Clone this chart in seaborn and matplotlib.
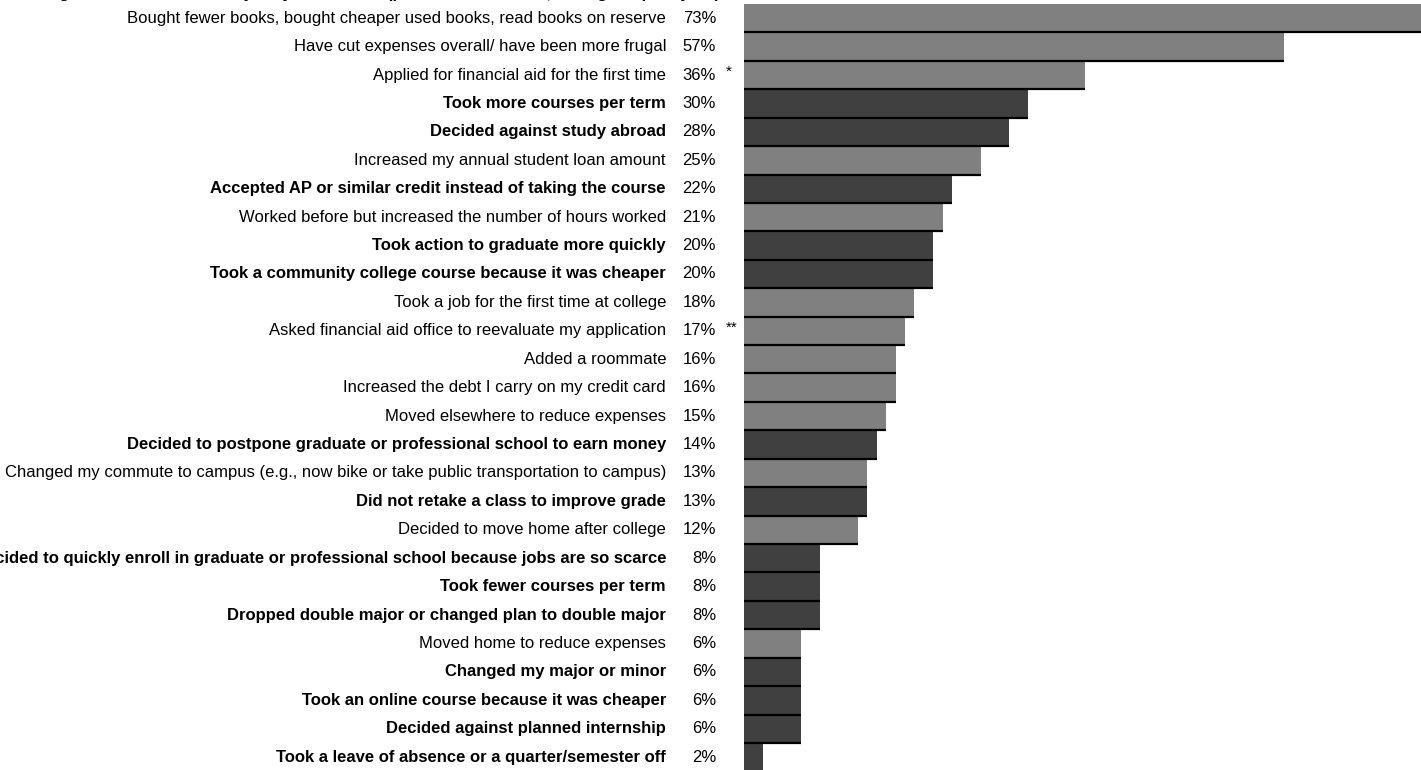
import matplotlib
matplotlib.use("Agg")
import matplotlib.pyplot as plt
import matplotlib.transforms as mtransforms
import seaborn as sns
import pandas as pd

# ---- data -------------------------------------------------------------
labels = [
    "Bought fewer books, bought cheaper used books, read books on reserve",
    "Have cut expenses overall/ have been more frugal",
    "Applied for financial aid for the first time",
    "Took more courses per term",
    "Decided against study abroad",
    "Increased my annual student loan amount",
    "Accepted AP or similar credit instead of taking the course",
    "Worked before but increased the number of hours worked",
    "Took action to graduate more quickly",
    "Took a community college course because it was cheaper",
    "Took a job for the first time at college",
    "Asked financial aid office to reevaluate my application",
    "Added a roommate",
    "Increased the debt I carry on my credit card",
    "Moved elsewhere to reduce expenses",
    "Decided to postpone graduate or professional school to earn money",
    "Changed my commute to campus (e.g., now bike or take public transportation to campus)",
    "Did not retake a class to improve grade",
    "Decided to move home after college",
    "Decided to quickly enroll in graduate or professional school because jobs are so scarce",
    "Took fewer courses per term",
    "Dropped double major or changed plan to double major",
    "Moved home to reduce expenses",
    "Changed my major or minor",
    "Took an online course because it was cheaper",
    "Decided against planned internship",
    "Took a leave of absence or a quarter/semester off",
]
values = [73, 57, 36, 30, 28, 25, 22, 21, 20, 20, 18, 17, 16, 16, 15, 14,
          13, 13, 12, 8, 8, 8, 6, 6, 6, 6, 2]
# "academic" actions are drawn dark and bold, "financial" ones light
groups = ["financial", "financial", "financial", "academic", "academic",
          "financial", "academic", "financial", "academic", "academic",
          "financial", "financial", "financial", "financial", "financial",
          "academic", "financial", "academic", "financial", "academic",
          "academic", "academic", "financial", "academic", "academic",
          "academic", "academic"]
notes = ["", "", "*", "", "", "", "", "", "", "", "", "**", "", "", "", "",
         "", "", "", "", "", "", "", "", "", "", ""]
title = ("Approaches to paying for college: actions students say they have taken "
         "(percent of students, during the past year)")

palette = {"financial": "#808080", "academic": "#404040"}

# ---- figure -----------------------------------------------------------
sns.set_theme(style="white")
plt.rcParams["font.family"] = ["Liberation Sans", "DejaVu Sans"]

W, H = 1421, 770
fig = plt.figure(figsize=(W / 100, H / 100), dpi=100)

x0_px, top_px, pitch_px = 744, 4, 28.42
n = len(labels)
ax_h = n * pitch_px
ax = fig.add_axes([x0_px / W, (H - top_px - ax_h) / H, 1 - x0_px / W, ax_h / H])

df = pd.DataFrame({"label": labels, "value": values, "group": groups})
sns.barplot(data=df, y="label", x="value", hue="group", palette=palette,
            order=labels, dodge=False, width=1.0, saturation=1,
            orient="h", legend=False, ax=ax, linewidth=0)

# black rule along the bottom edge of each bar
for i, v in enumerate(values):
    ax.hlines(i + 0.5, 0, v, color="black", linewidth=1.6, zorder=3)

px_per_pct = 9.47
ax.set_xlim(0, (W - x0_px) / px_per_pct)
ax.set_ylim(n - 0.5, -0.5)
ax.axis("off")

trans = mtransforms.blended_transform_factory(fig.transFigure, ax.transData)
fs = 12
for i, (lab, v, g, note) in enumerate(zip(labels, values, groups, notes)):
    ax.text(666 / W, i, lab, transform=trans, ha="right", va="center",
            fontsize=fs, fontweight="bold" if g == "academic" else "normal",
            color="black", clip_on=False)
    ax.text(716 / W, i, f"{v}%", transform=trans, ha="right", va="center",
            fontsize=fs, color="black", clip_on=False)
    if note:
        ax.text(726 / W, i - 0.12, note, transform=trans, ha="left",
                va="center", fontsize=fs - 1, color="black", clip_on=False)

# title row sits just above the visible area (only its descenders show)
fig.text(720 / W, 1 + 2 / H, title, ha="right", va="baseline",
         fontsize=fs, fontweight="bold", color="black")

fig.savefig("out.png", dpi=100, facecolor="white")
